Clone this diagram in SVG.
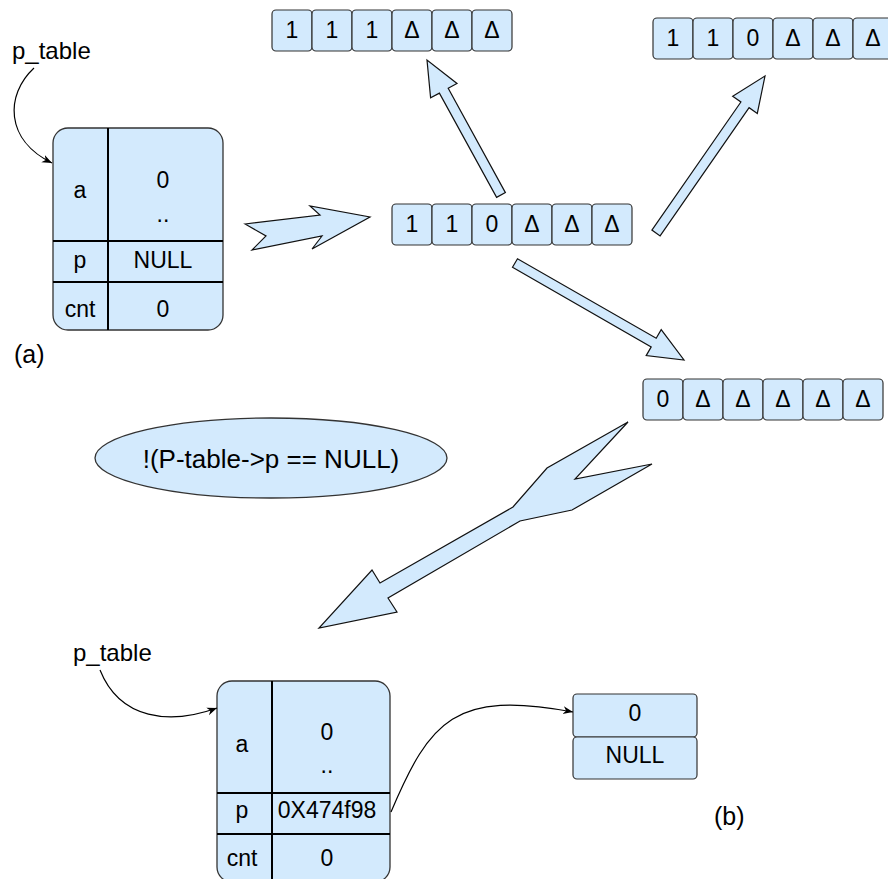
<svg xmlns="http://www.w3.org/2000/svg" width="888" height="879" viewBox="0 0 888 879">
<defs>
<style>
.box{fill:#d3eafd;stroke:#333;stroke-width:1.3}
.cell{fill:#d3eafd;stroke:#333;stroke-width:1.2}
.div{stroke:#000;stroke-width:2;fill:none}
.blk{fill:#d3eafd;stroke:#111;stroke-width:1.2;stroke-linejoin:miter}
.t{font-family:"Liberation Sans",Arial,sans-serif;font-size:23px;text-anchor:middle;fill:#000}
.lbl{font-family:"Liberation Sans",Arial,sans-serif;font-size:24px;fill:#000}
.con{fill:none;stroke:#000;stroke-width:1.2}
</style>
<marker id="ah" viewBox="0 0 10 10" refX="10" refY="5" markerWidth="10" markerHeight="10" markerUnits="userSpaceOnUse" orient="auto">
<path d="M0,1 L10,5 L0,9 L3,5 Z" fill="#000"/>
</marker>
</defs>
<rect width="888" height="879" fill="#fff"/>

<g id="labels">
<text class="lbl" x="12" y="59">p_table</text>
<text class="lbl" x="14" y="363" style="font-size:25px">(a)</text>
<text class="lbl" x="73" y="661">p_table</text>
<text class="lbl" x="714" y="825" style="font-size:25px">(b)</text>
</g>

<g id="table-a">
<rect class="box" x="53" y="128" width="170" height="202" rx="15"/>
<line class="div" x1="108" y1="128" x2="108" y2="330"/>
<line class="div" x1="53" y1="241" x2="223" y2="241"/>
<line class="div" x1="53" y1="282" x2="223" y2="282"/>
<text class="t" x="80" y="198">a</text>
<text class="t" x="163" y="188">0</text>
<text class="t" x="163" y="222">..</text>
<text class="t" x="80" y="268">p</text>
<text class="t" x="163" y="268">NULL</text>
<text class="t" x="80" y="317">cnt</text>
<text class="t" x="163" y="317">0</text>
</g>

<g id="array-top-left">
<rect class="cell" x="272" y="10" width="40" height="41" rx="4"/>
<rect class="cell" x="312" y="10" width="40" height="41" rx="4"/>
<rect class="cell" x="352" y="10" width="40" height="41" rx="4"/>
<rect class="cell" x="392" y="10" width="40" height="41" rx="4"/>
<rect class="cell" x="432" y="10" width="40" height="41" rx="4"/>
<rect class="cell" x="472" y="10" width="40" height="41" rx="4"/>
<text class="t" x="292" y="38">1</text>
<text class="t" x="332" y="38">1</text>
<text class="t" x="372" y="38">1</text>
<text class="t" x="412" y="38">Δ</text>
<text class="t" x="452" y="38">Δ</text>
<text class="t" x="492" y="38">Δ</text>
</g>

<g id="array-top-right">
<rect class="cell" x="653" y="18" width="40" height="41" rx="4"/>
<rect class="cell" x="693" y="18" width="40" height="41" rx="4"/>
<rect class="cell" x="733" y="18" width="40" height="41" rx="4"/>
<rect class="cell" x="773" y="18" width="40" height="41" rx="4"/>
<rect class="cell" x="813" y="18" width="40" height="41" rx="4"/>
<rect class="cell" x="853" y="18" width="40" height="41" rx="4"/>
<text class="t" x="673" y="46">1</text>
<text class="t" x="713" y="46">1</text>
<text class="t" x="753" y="46">0</text>
<text class="t" x="793" y="46">Δ</text>
<text class="t" x="833" y="46">Δ</text>
<text class="t" x="873" y="46">Δ</text>
</g>

<g id="array-middle">
<rect class="cell" x="392" y="204" width="40" height="41" rx="4"/>
<rect class="cell" x="432" y="204" width="40" height="41" rx="4"/>
<rect class="cell" x="472" y="204" width="40" height="41" rx="4"/>
<rect class="cell" x="512" y="204" width="40" height="41" rx="4"/>
<rect class="cell" x="552" y="204" width="40" height="41" rx="4"/>
<rect class="cell" x="592" y="204" width="40" height="41" rx="4"/>
<text class="t" x="412" y="232">1</text>
<text class="t" x="452" y="232">1</text>
<text class="t" x="492" y="232">0</text>
<text class="t" x="532" y="232">Δ</text>
<text class="t" x="572" y="232">Δ</text>
<text class="t" x="612" y="232">Δ</text>
</g>

<g id="array-bottom-right">
<rect class="cell" x="643" y="379" width="40" height="41" rx="4"/>
<rect class="cell" x="683" y="379" width="40" height="41" rx="4"/>
<rect class="cell" x="723" y="379" width="40" height="41" rx="4"/>
<rect class="cell" x="763" y="379" width="40" height="41" rx="4"/>
<rect class="cell" x="803" y="379" width="40" height="41" rx="4"/>
<rect class="cell" x="843" y="379" width="40" height="41" rx="4"/>
<text class="t" x="663" y="407">0</text>
<text class="t" x="703" y="407">Δ</text>
<text class="t" x="743" y="407">Δ</text>
<text class="t" x="783" y="407">Δ</text>
<text class="t" x="823" y="407">Δ</text>
<text class="t" x="863" y="407">Δ</text>
</g>

<g id="condition">
<ellipse class="box" cx="271" cy="458" rx="176" ry="40"/>
<text class="t" x="271" y="468" style="font-size:26px">!(P-table-&gt;p == NULL)</text>
</g>

<g id="table-b">
<rect class="box" x="217" y="681" width="173" height="201" rx="15"/>
<line class="div" x1="272" y1="681" x2="272" y2="882"/>
<line class="div" x1="217" y1="793" x2="390" y2="793"/>
<line class="div" x1="217" y1="834" x2="390" y2="834"/>
<text class="t" x="242" y="752">a</text>
<text class="t" x="327" y="740">0</text>
<text class="t" x="327" y="773">..</text>
<text class="t" x="242" y="818">p</text>
<text class="t" x="327" y="818">0X474f98</text>
<text class="t" x="242" y="866">cnt</text>
<text class="t" x="327" y="866">0</text>
</g>

<g id="node-b">
<rect class="cell" x="573" y="694" width="124" height="43" rx="4"/>
<rect class="cell" x="573" y="737" width="124" height="42" rx="4"/>
<text class="t" x="635" y="721">0</text>
<text class="t" x="635" y="763">NULL</text>
</g>

<g id="connectors">
<path class="con" d="M34,68 C5,95 5,140 52,163" marker-end="url(#ah)"/>
<path class="con" d="M100,670 C120,720 170,725 217,708" marker-end="url(#ah)"/>
<path class="con" d="M391,812 C430,720 455,690 573,712" marker-end="url(#ah)"/>
<polygon class="blk" points="245,224 320,215 310,206 370,217 312,249 322,236 252,250 266,236"/>
<polygon class="blk" points="505.4,192.6 448.2,88.3 457,83.5 427,60 430.6,97.9 439.4,93.1 496.6,197.4"/>
<polygon class="blk" points="660.1,235.9 749.1,107.7 757.3,113.4 765,76 732.7,96.3 740.9,102 651.9,230.1"/>
<polygon class="blk" points="512.5,267.3 651.2,346.9 646.2,355.6 684,360 661.2,329.6 656.2,338.3 517.5,258.7"/>
<polygon class="blk" points="628,422 547,468 513,507 380,583 372,570 319,628 397,612 388,598 520,521 572,510 652,464 575,479"/>
</g>
</svg>
